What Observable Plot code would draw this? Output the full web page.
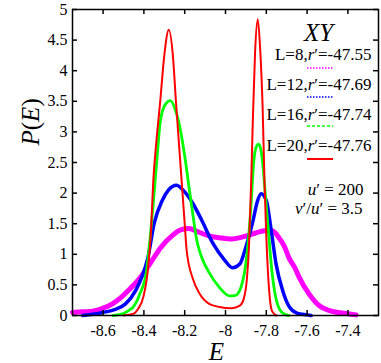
<!DOCTYPE html>
<html><head><meta charset="utf-8">
<script src="https://cdn.jsdelivr.net/npm/d3@7"></script>
<script src="https://cdn.jsdelivr.net/npm/@observablehq/plot@0.6"></script>
<style>body{margin:0;background:#fff} svg{display:block} svg text{font-family:"Liberation Serif","Times New Roman",serif !important;}</style>
</head><body><div id="chart"></div>
<script>
// ---- data ----
const xTicks = [-8.6, -8.4, -8.2, -8, -7.8, -7.6, -7.4];
const yTicks = [0, 0.5, 1, 1.5, 2, 2.5, 3, 3.5, 4, 4.5, 5];
const legendLabels = ["L=8,r′=-47.55", "L=12,r′=-47.69", "L=16,r′=-47.74", "L=20,r′=-47.76"];
const colors = ["#ff00ff", "#0000ff", "#00ff00", "#ff0000"];
const paramLines = ["u′ = 200", "v′/u′ = 3.5"];

const L8 = [[-8.75,0.05],[-8.70,0.06],[-8.65,0.07],[-8.60,0.12],[-8.55,0.2],[-8.51,0.3],[-8.47,0.43],[-8.43,0.57],[-8.39,0.75],[-8.36,0.9],[-8.32,1.1],[-8.26,1.31],[-8.22,1.4],[-8.18,1.42],[-8.13,1.36],[-8.07,1.29],[-8.03,1.27],[-7.97,1.25],[-7.92,1.28],[-7.87,1.33],[-7.83,1.37],[-7.80,1.39],[-7.77,1.38],[-7.74,1.28],[-7.71,1.12],[-7.69,0.95],[-7.66,0.78],[-7.64,0.63],[-7.59,0.35],[-7.54,0.16],[-7.49,0.08],[-7.45,0.05],[-7.40,0.03],[-7.36,0.01]];
const L12 = [[-8.70,0],[-8.65,0.02],[-8.60,0.05],[-8.54,0.1],[-8.49,0.19],[-8.44,0.41],[-8.41,0.63],[-8.38,0.95],[-8.35,1.5],[-8.31,1.88],[-8.28,2.05],[-8.24,2.13],[-8.20,2.02],[-8.16,1.83],[-8.12,1.58],[-8.06,1.17],[-8.01,0.93],[-7.965,0.78],[-7.93,0.84],[-7.90,1.12],[-7.865,1.55],[-7.845,1.85],[-7.825,1.99],[-7.80,1.88],[-7.776,1.39],[-7.752,0.84],[-7.72,0.41],[-7.687,0.14],[-7.65,0.04],[-7.60,0.01],[-7.58,0]];
const L16 = [[-8.55,0],[-8.50,0.03],[-8.476,0.08],[-8.452,0.14],[-8.42,0.35],[-8.387,0.73],[-8.371,1.22],[-8.355,1.8],[-8.345,2.2],[-8.335,2.6],[-8.32,3.16],[-8.295,3.45],[-8.27,3.51],[-8.245,3.35],[-8.229,3.16],[-8.2,2.61],[-8.183,2.2],[-8.16,1.65],[-8.142,1.25],[-8.12,0.98],[-8.08,0.7],[-8.03,0.46],[-7.98,0.32],[-7.95,0.33],[-7.915,0.57],[-7.891,1.12],[-7.875,1.8],[-7.862,2.5],[-7.85,2.75],[-7.838,2.8],[-7.826,2.7],[-7.815,2.4],[-7.803,1.9],[-7.79,1.4],[-7.776,0.84],[-7.76,0.41],[-7.736,0.11],[-7.71,0.02],[-7.69,0]];
const L20 = [[-8.5,0],[-8.45,0.03],[-8.428,0.11],[-8.403,0.3],[-8.379,0.79],[-8.365,1.4],[-8.354,2.2],[-8.34,2.8],[-8.32,3.5],[-8.30,4.25],[-8.278,4.67],[-8.258,4.25],[-8.243,3.5],[-8.228,2.8],[-8.215,2.2],[-8.2,1.5],[-8.19,1.05],[-8.16,0.6],[-8.126,0.35],[-8.08,0.19],[-8.03,0.14],[-7.97,0.12],[-7.93,0.16],[-7.91,0.28],[-7.895,0.6],[-7.885,1.12],[-7.874,2.2],[-7.866,3.2],[-7.855,4.3],[-7.842,4.84],[-7.83,4.35],[-7.818,3.4],[-7.809,2.2],[-7.8,1.3],[-7.79,0.6],[-7.78,0.2],[-7.77,0.06],[-7.75,0]];

const series = [L8, L12, L16, L20];
const widths = [5, 3.5, 2.8, 2];

const W = 381, H = 363, mL = 72, mR = 3, mT = 9, mB = 48;
const pw = W - mL - mR, ph = H - mT - mB;

const marks = [];
series.forEach((s, i) => {
  marks.push(Plot.line(s, {x: d => d[0], y: d => d[1], stroke: colors[i], strokeWidth: widths[i], curve: "monotone-x"}));
});
// inward ticks on all four sides
marks.push(Plot.tickX(xTicks, {x: d => d, insetTop: ph - 5, strokeWidth: 1.5}));
marks.push(Plot.tickX(xTicks, {x: d => d, insetBottom: ph - 5, strokeWidth: 1.5}));
marks.push(Plot.tickY(yTicks, {y: d => d, insetRight: pw - 5, strokeWidth: 1.5}));
marks.push(Plot.tickY(yTicks, {y: d => d, insetLeft: pw - 5, strokeWidth: 1.5}));
marks.push(Plot.frame({stroke: "black", strokeWidth: 1.5}));
// axis labels
marks.push(Plot.text(["P(E)"], {text: d => d, frameAnchor: "left", rotate: -90, dx: -42, dy: -17, fontSize: 25, className: "ital"}));
marks.push(Plot.text(["E"], {text: d => d, frameAnchor: "bottom", dx: -9, dy: 44, lineAnchor: "bottom", fontSize: 25, className: "ital"}));
// legend
marks.push(Plot.text(["XY"], {text: d => d, frameAnchor: "top-right", dx: -60, dy: 31, lineAnchor: "bottom", textAnchor: "middle", fontSize: 25, className: "ital"}));
const legDy = [50, 80.5, 110.5, 141];
legendLabels.forEach((t, i) => {
  marks.push(Plot.text([t], {text: d => d, frameAnchor: "top-right", dx: -7, dy: legDy[i], lineAnchor: "bottom", textAnchor: "end", fontSize: 17, className: "ital"}));
});
const parDy = [185, 204], parDx = [-15, -16];
paramLines.forEach((t, i) => {
  marks.push(Plot.text([t], {text: d => d, frameAnchor: "top-right", dx: parDx[i], dy: parDy[i], lineAnchor: "bottom", textAnchor: "end", fontSize: 17, className: "ital"}));
});

const chart = Plot.plot({
  width: W, height: H,
  marginLeft: mL, marginRight: mR, marginTop: mT, marginBottom: mB,
  style: {fontFamily: "'Liberation Serif', serif", fontSize: "16px", color: "black", background: "white"},
  x: {domain: [-8.75, -7.25], ticks: xTicks, tickSize: 0, tickPadding: 9, tickFormat: d => String(d), label: null},
  y: {domain: [0, 5], ticks: yTicks, tickSize: 0, tickPadding: 5, tickFormat: d => String(d), label: null},
  marks
});
document.getElementById("chart").appendChild(chart);

const svg = d3.select(chart.tagName.toLowerCase() === "svg" ? chart : chart.querySelector("svg"));
svg.selectAll("text").attr("font-family", "'Liberation Serif', serif");
// italicize math letters (all letters except "L")
svg.selectAll("g.ital text").each(function () {
  const s = this.textContent;
  const el = d3.select(this);
  el.text(null);
  let buf = "", it = null;
  const flush = () => { if (buf) { el.append("tspan").attr("font-style", it ? "italic" : "normal").text(buf); } buf = ""; };
  for (const ch of s) {
    const isIt = /[A-KM-Za-z]/.test(ch);
    if (it !== null && isIt !== it) flush();
    it = isIt; buf += ch;
  }
  flush();
});
// legend line samples
const dashes = ["1.5,1.5", "1.5,1.5", "3,2", null];
const lineY = [68, 97, 126, 159];
legendLabels.forEach((t, i) => {
  const ln = svg.append("line")
    .attr("x1", W - mR - 71).attr("x2", W - mR - 45)
    .attr("y1", lineY[i]).attr("y2", lineY[i])
    .attr("stroke", colors[i]).attr("stroke-width", i === 3 ? 2 : 1.5);
  if (dashes[i]) ln.attr("stroke-dasharray", dashes[i]);
});
</script>
</body></html>
